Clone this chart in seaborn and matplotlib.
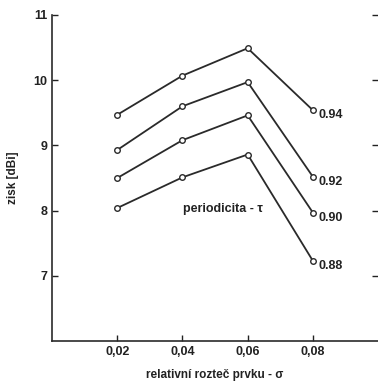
import pandas as pd
import matplotlib
matplotlib.use("Agg")
import matplotlib.pyplot as plt
import seaborn as sns

sigma = [0.02, 0.04, 0.06, 0.08]
tau = ["0.94", "0.92", "0.90", "0.88"]
zisk_094 = [9.47, 10.07, 10.49, 9.54]
zisk_092 = [8.93, 9.60, 9.97, 8.52]
zisk_090 = [8.50, 9.08, 9.46, 7.97]
zisk_088 = [8.04, 8.51, 8.86, 7.23]

rows = []
for t, vals in zip(tau, [zisk_094, zisk_092, zisk_090, zisk_088]):
    for s, v in zip(sigma, vals):
        rows.append({"sigma": s, "zisk": v, "tau": t})
df = pd.DataFrame(rows)

sns.set_style("white")
plt.rcParams['font.family'] = ['Liberation Sans', 'DejaVu Sans']

fig = plt.figure(figsize=(3.78, 3.84), dpi=100)
ax = fig.add_axes([0.138, 0.112, 0.862, 0.849])

sns.lineplot(data=df, x="sigma", y="zisk", units="tau", estimator=None,
             color="#2a2a2a", linewidth=1.3, marker="o", markersize=4,
             markerfacecolor="white", markeredgecolor="#2a2a2a",
             markeredgewidth=1.0, ax=ax, legend=False)

# popisky periodicity
for t, vals in zip(tau, [zisk_094, zisk_092, zisk_090, zisk_088]):
    ax.text(sigma[-1] + 0.0016, vals[-1] - 0.08, t, fontsize=9,
            fontweight="bold", color="#222222", va="center", ha="left")

ax.text(0.0402, 8.02, "periodicita - τ", fontsize=9, fontweight="bold",
        color="#222222", va="center", ha="left")

ax.set_xlim(0, 0.1)
ax.set_ylim(6, 11)
ax.set_xticks([0.02, 0.04, 0.06, 0.08])
ax.set_xticklabels(["0,02", "0,04", "0,06", "0,08"])
ax.set_yticks([7, 8, 9, 10, 11])
ax.set_yticklabels(["7", "8", "9", "10", "11"])

ax.tick_params(axis="both", direction="in", length=4, width=1.0,
               labelsize=9, colors="#222222")
ax.tick_params(axis="y", right=True, left=True)
ax.tick_params(axis="x", bottom=True)
for lbl in ax.get_xticklabels() + ax.get_yticklabels():
    lbl.set_fontweight("bold")

ax.spines["top"].set_visible(False)
ax.spines["right"].set_visible(False)
for side in ["left", "bottom"]:
    ax.spines[side].set_color("#2a2a2a")
    ax.spines[side].set_linewidth(1.2)

ax.set_xlabel("relativní rozteč prvku - σ", fontsize=8.5, fontweight="bold",
              color="#222222", labelpad=8)
ax.set_ylabel("zisk [dBi]", fontsize=8.5, fontweight="bold",
              color="#222222", labelpad=10)

fig.savefig("out.png", dpi=100)
